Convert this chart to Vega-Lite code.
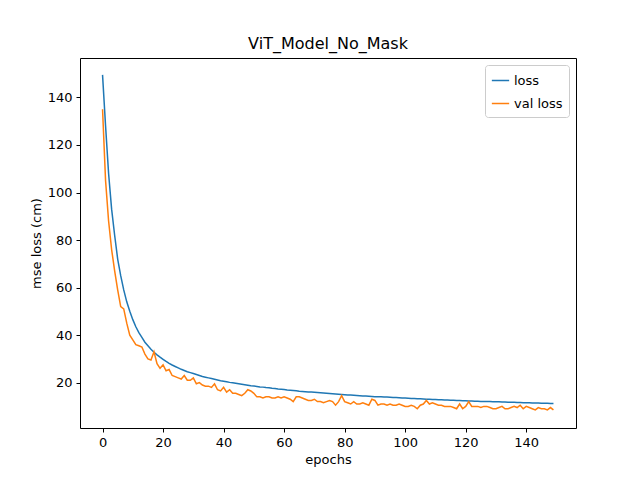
{
  "$schema": "https://vega.github.io/schema/vega-lite/v6.json",
  "width": 496,
  "height": 370,
  "autosize": "none",
  "padding": {"left": 80, "top": 58, "right": 64, "bottom": 52},
  "background": "white",
  "title": {"text": "ViT_Model_No_Mask", "fontSize": 16, "fontWeight": "normal", "font": "DejaVu Sans", "offset": 6},
  "data": {"values": [
    {"e":0,"loss":149.5,"val loss":135},{"e":1,"loss":128,"val loss":105},{"e":2,"loss":108,"val loss":88},{"e":3,"loss":93,"val loss":76},{"e":4,"loss":82,"val loss":67},{"e":5,"loss":72,"val loss":59},{"e":6,"loss":65,"val loss":52},{"e":7,"loss":59,"val loss":51},{"e":8,"loss":54,"val loss":45},{"e":9,"loss":50,"val loss":40},
    {"e":10,"loss":46.5,"val loss":38},{"e":11,"loss":43.5,"val loss":36},{"e":12,"loss":41,"val loss":35.5},{"e":13,"loss":39,"val loss":35},{"e":14,"loss":37,"val loss":32},{"e":15,"loss":35.5,"val loss":30},{"e":16,"loss":34,"val loss":29.5},{"e":17,"loss":32.8,"val loss":33},{"e":18,"loss":31.7,"val loss":28},{"e":19,"loss":30.7,"val loss":26},
    {"e":20,"loss":29.8,"val loss":27.5},{"e":21,"loss":28.9,"val loss":25},{"e":22,"loss":28.1,"val loss":25.5},{"e":23,"loss":27.4,"val loss":23},{"e":24,"loss":26.8,"val loss":22.5},{"e":25,"loss":26.2,"val loss":22},{"e":26,"loss":25.6,"val loss":21.5},{"e":27,"loss":25.1,"val loss":23},{"e":28,"loss":24.6,"val loss":21},{"e":29,"loss":24.2,"val loss":21},
    {"e":30,"loss":23.8,"val loss":22},{"e":31,"loss":23.4,"val loss":19.5},{"e":32,"loss":23,"val loss":20},{"e":33,"loss":22.6,"val loss":19},{"e":34,"loss":22.3,"val loss":18.5},{"e":35,"loss":22,"val loss":18.5},{"e":36,"loss":21.7,"val loss":18},{"e":37,"loss":21.4,"val loss":19.5},{"e":38,"loss":21.1,"val loss":17},{"e":39,"loss":20.8,"val loss":16.5},
    {"e":40,"loss":20.6,"val loss":18},{"e":41,"loss":20.4,"val loss":16},{"e":42,"loss":20.1,"val loss":17},{"e":43,"loss":19.9,"val loss":15.5},{"e":44,"loss":19.7,"val loss":15.5},{"e":45,"loss":19.5,"val loss":15},{"e":46,"loss":19.3,"val loss":14.5},{"e":47,"loss":19.1,"val loss":15.5},{"e":48,"loss":18.9,"val loss":17},{"e":49,"loss":18.7,"val loss":16.5},
    {"e":50,"loss":18.6,"val loss":15.5},{"e":51,"loss":18.4,"val loss":14},{"e":52,"loss":18.2,"val loss":14},{"e":53,"loss":18.1,"val loss":13.5},{"e":54,"loss":17.9,"val loss":14},{"e":55,"loss":17.8,"val loss":14},{"e":56,"loss":17.6,"val loss":13.5},{"e":57,"loss":17.5,"val loss":13.5},{"e":58,"loss":17.3,"val loss":14},{"e":59,"loss":17.2,"val loss":13.5},
    {"e":60,"loss":17.1,"val loss":14},{"e":61,"loss":16.9,"val loss":13.5},{"e":62,"loss":16.8,"val loss":13},{"e":63,"loss":16.7,"val loss":12},{"e":64,"loss":16.6,"val loss":14},{"e":65,"loss":16.4,"val loss":14},{"e":66,"loss":16.3,"val loss":13.5},{"e":67,"loss":16.2,"val loss":13},{"e":68,"loss":16.1,"val loss":12.5},{"e":69,"loss":16,"val loss":12.5},
    {"e":70,"loss":15.9,"val loss":13},{"e":71,"loss":15.8,"val loss":12},{"e":72,"loss":15.7,"val loss":12},{"e":73,"loss":15.6,"val loss":11.5},{"e":74,"loss":15.5,"val loss":12},{"e":75,"loss":15.4,"val loss":12.5},{"e":76,"loss":15.3,"val loss":12},{"e":77,"loss":15.2,"val loss":10.5},{"e":78,"loss":15.1,"val loss":12},{"e":79,"loss":15,"val loss":14.5},
    {"e":80,"loss":14.9,"val loss":12},{"e":81,"loss":14.8,"val loss":11.5},{"e":82,"loss":14.8,"val loss":11},{"e":83,"loss":14.7,"val loss":12},{"e":84,"loss":14.6,"val loss":11},{"e":85,"loss":14.5,"val loss":11},{"e":86,"loss":14.4,"val loss":11.5},{"e":87,"loss":14.4,"val loss":11},{"e":88,"loss":14.3,"val loss":10.5},{"e":89,"loss":14.2,"val loss":13},
    {"e":90,"loss":14.1,"val loss":12.5},{"e":91,"loss":14.1,"val loss":10.5},{"e":92,"loss":14,"val loss":11},{"e":93,"loss":13.9,"val loss":11},{"e":94,"loss":13.9,"val loss":10.5},{"e":95,"loss":13.8,"val loss":11},{"e":96,"loss":13.7,"val loss":10.5},{"e":97,"loss":13.7,"val loss":10.5},{"e":98,"loss":13.6,"val loss":11},{"e":99,"loss":13.5,"val loss":10.5},
    {"e":100,"loss":13.5,"val loss":10},{"e":101,"loss":13.4,"val loss":10},{"e":102,"loss":13.3,"val loss":10.5},{"e":103,"loss":13.3,"val loss":10},{"e":104,"loss":13.2,"val loss":9},{"e":105,"loss":13.2,"val loss":10.5},{"e":106,"loss":13.1,"val loss":11},{"e":107,"loss":13,"val loss":12.5},{"e":108,"loss":13,"val loss":11},{"e":109,"loss":12.9,"val loss":11.5},
    {"e":110,"loss":12.9,"val loss":11},{"e":111,"loss":12.8,"val loss":10.5},{"e":112,"loss":12.8,"val loss":10.5},{"e":113,"loss":12.7,"val loss":10},{"e":114,"loss":12.7,"val loss":10},{"e":115,"loss":12.6,"val loss":10},{"e":116,"loss":12.6,"val loss":9.5},{"e":117,"loss":12.5,"val loss":9},{"e":118,"loss":12.5,"val loss":11},{"e":119,"loss":12.4,"val loss":9},
    {"e":120,"loss":12.4,"val loss":10},{"e":121,"loss":12.3,"val loss":12},{"e":122,"loss":12.3,"val loss":10},{"e":123,"loss":12.2,"val loss":10},{"e":124,"loss":12.2,"val loss":10},{"e":125,"loss":12.1,"val loss":9.5},{"e":126,"loss":12.1,"val loss":10},{"e":127,"loss":12,"val loss":10},{"e":128,"loss":12,"val loss":9.5},{"e":129,"loss":11.9,"val loss":9},
    {"e":130,"loss":11.9,"val loss":9},{"e":131,"loss":11.9,"val loss":9.5},{"e":132,"loss":11.8,"val loss":10},{"e":133,"loss":11.8,"val loss":9},{"e":134,"loss":11.7,"val loss":9},{"e":135,"loss":11.7,"val loss":9.5},{"e":136,"loss":11.7,"val loss":10},{"e":137,"loss":11.6,"val loss":9.5},{"e":138,"loss":11.6,"val loss":10.5},{"e":139,"loss":11.5,"val loss":9},
    {"e":140,"loss":11.5,"val loss":10},{"e":141,"loss":11.5,"val loss":9.5},{"e":142,"loss":11.4,"val loss":9},{"e":143,"loss":11.4,"val loss":8.5},{"e":144,"loss":11.4,"val loss":9.5},{"e":145,"loss":11.3,"val loss":9},{"e":146,"loss":11.3,"val loss":9},{"e":147,"loss":11.3,"val loss":8.5},{"e":148,"loss":11.2,"val loss":9.5},{"e":149,"loss":11.2,"val loss":8.5}
  ]},
  "transform": [{"fold": ["loss", "val loss"], "as": ["series", "value"]}],
  "mark": {"type": "line", "strokeWidth": 1.5, "clip": true},
  "encoding": {
    "x": {"field": "e", "type": "quantitative", "title": "epochs",
      "scale": {"domain": [-7.45, 156.45], "nice": false, "zero": false},
      "axis": {"values": [0, 20, 40, 60, 80, 100, 120, 140]}},
    "y": {"field": "value", "type": "quantitative", "title": "mse loss (cm)",
      "scale": {"domain": [0.9, 156.6], "nice": false, "zero": false},
      "axis": {"values": [20, 40, 60, 80, 100, 120, 140]}},
    "color": {"field": "series", "type": "nominal", "title": null,
      "scale": {"domain": ["loss", "val loss"], "range": ["#1f77b4", "#ff7f0e"]},
      "legend": {"orient": "top-right", "offset": 7, "symbolType": "stroke", "symbolStrokeWidth": 1.5, "symbolSize": 300,
        "labelFontSize": 13, "labelFont": "DejaVu Sans", "fillColor": "white", "strokeColor": "#cccccc", "padding": 6, "cornerRadius": 3, "rowPadding": 6}}
  },
  "config": {
    "font": "DejaVu Sans",
    "view": {"stroke": "black", "strokeWidth": 1},
    "axis": {"grid": false, "domain": false, "tickColor": "black", "tickSize": 4, "labelColor": "black", "labelFontSize": 13, "titleFontSize": 13, "titleFontWeight": "normal", "titleColor": "black", "labelPadding": 4}
  }
}
